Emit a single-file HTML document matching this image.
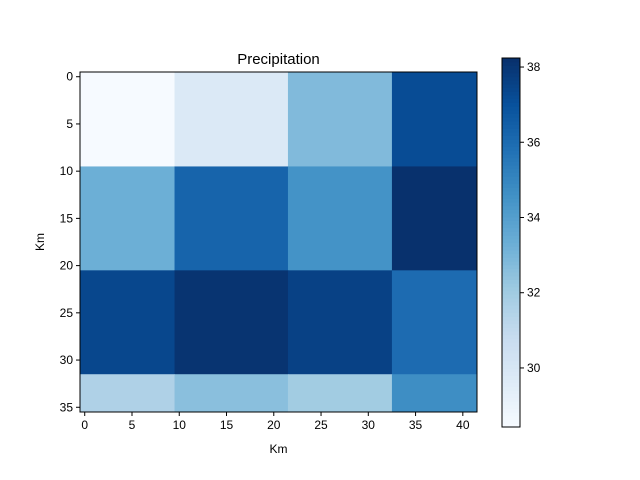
<!DOCTYPE html>
<html><head><meta charset="utf-8"><style>body{margin:0;background:#fff}svg{display:block;font-family:"Liberation Sans","DejaVu Sans",sans-serif}</style></head>
<body>
<svg id="c" width="640" height="480"></svg>
<script>
const colEdges=[-0.5,9.5,21.5,32.5,41.5];
const rowEdges=[-0.5,9.5,20.5,31.5,35.5];
const values=[
 [28.5,29.8,32.8,37.2],
 [33.3,36.3,34.5,38.2],
 [37.4,38.1,37.6,36.0],
 [31.6,32.6,32.0,34.7]];
const xTicks=[0,5,10,15,20,25,30,35,40];
const yTicks=[0,5,10,15,20,25,30,35];
const cbTicks=[30,32,34,36,38];
const vmin=28.43,vmax=38.24;
const stops=["#f7fbff","#deebf7","#c6dbef","#9ecae1","#6baed6","#4292c6","#2171b5","#08519c","#08306b"];
function hex(h){return [1,3,5].map(i=>parseInt(h.substr(i,2),16));}
function cmap(v){let t=Math.max(0,Math.min(1,(v-vmin)/(vmax-vmin)))*8;let i=Math.min(7,Math.floor(t)),f=t-i;let a=hex(stops[i]),b=hex(stops[i+1]);return "rgb("+a.map((x,k)=>Math.round(x+(b[k]-x)*f)).join(",")+")";}
const X0=80,X1=477,Y0=72,Y1=412;
const sx=v=>X0+(v+0.5)/42*(X1-X0), sy=v=>Y0+(v+0.5)/36*(Y1-Y0);
const CB0=58,CB1=427,cbx=502,cbw=18;
const sc=v=>CB1-(v-vmin)/(vmax-vmin)*(CB1-CB0);
const svg=document.getElementById('c');const NS="http://www.w3.org/2000/svg";
function el(t,a,txt){const e=document.createElementNS(NS,t);for(const k in a)e.setAttribute(k,a[k]);if(txt!==undefined)e.textContent=txt;svg.appendChild(e);return e;}
for(let r=0;r<4;r++)for(let c=0;c<4;c++){
 const e=el('rect',{x:sx(colEdges[c]),y:sy(rowEdges[r]),width:sx(colEdges[c+1])-sx(colEdges[c])+0.5,height:sy(rowEdges[r+1])-sy(rowEdges[r])+0.5,fill:cmap(values[r][c])});
 
 
}
let fr=el('rect',{x:X0,y:Y0,width:X1-X0,height:Y1-Y0,fill:'none',stroke:'#000','stroke-width':1});

xTicks.forEach(v=>{const x=sx(v);el('line',{x1:x,x2:x,y1:Y1,y2:Y1+4,stroke:'#000'});
 const t=el('text',{x:x,y:Y1+17,'text-anchor':'middle','font-size':12},v);});
yTicks.forEach(v=>{const y=sy(v);el('line',{x1:X0-4,x2:X0,y1:y,y2:y,stroke:'#000'});
 const t=el('text',{x:X0-7,y:y+4,'text-anchor':'end','font-size':12},v);});
let tt=el('text',{x:(X0+X1)/2,y:64,'text-anchor':'middle','font-size':15},'Precipitation');
let xl=el('text',{x:(X0+X1)/2,y:453,'text-anchor':'middle','font-size':12},'Km');
let yl=el('text',{x:44,y:(Y0+Y1)/2,'text-anchor':'middle','font-size':12,transform:'rotate(-90 44 '+(Y0+Y1)/2+')'},'Km');
const N=100;
for(let i=0;i<N;i++){const v0=vmin+(vmax-vmin)*i/N,v1=vmin+(vmax-vmin)*(i+1)/N;
 const e=el('rect',{x:cbx,y:sc(v1),width:cbw,height:sc(v0)-sc(v1)+0.6,fill:cmap((v0+v1)/2)});
 }
let cf=el('rect',{x:cbx,y:CB0,width:cbw,height:CB1-CB0,fill:'none',stroke:'#000'});
cbTicks.forEach(v=>{const y=sc(v);el('line',{x1:cbx+cbw,x2:cbx+cbw+4,y1:y,y2:y,stroke:'#000'});
 const t=el('text',{x:cbx+cbw+7,y:y+4,'font-size':12},v);});
</script>
</body></html>
